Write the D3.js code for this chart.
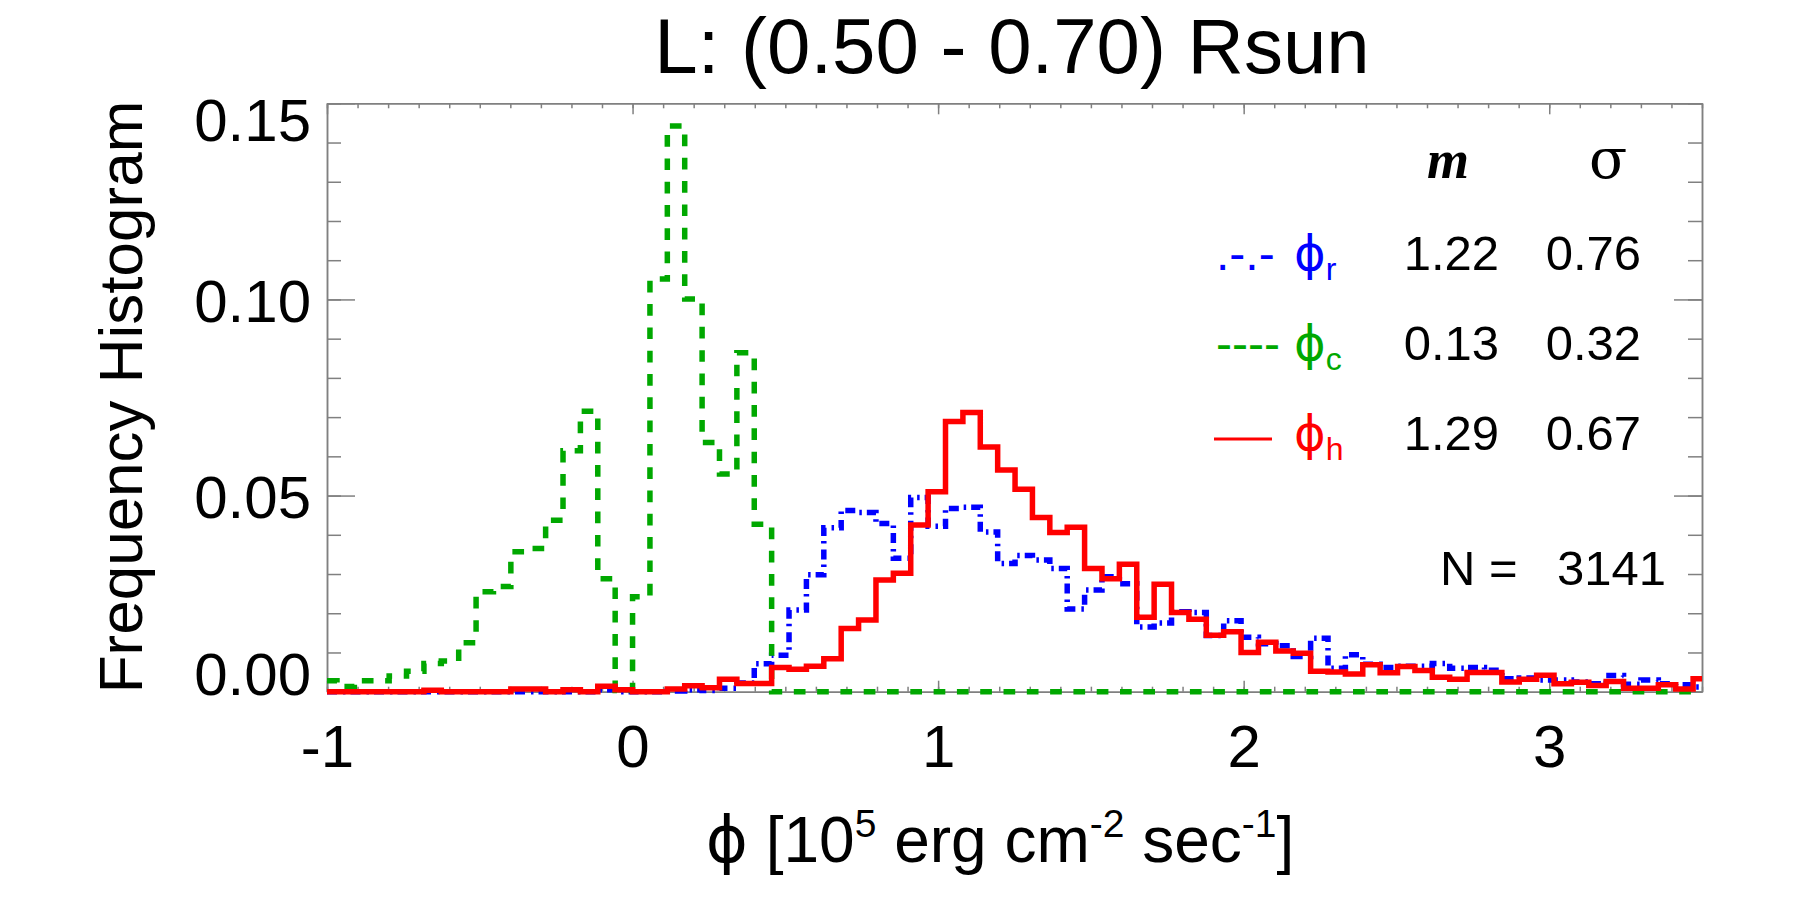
<!DOCTYPE html>
<html>
<head>
<meta charset="utf-8">
<script src="https://cdn.jsdelivr.net/npm/d3@7/dist/d3.min.js"></script>
<style>
    html, body { margin: 0; padding: 0; background: #fff; }
    svg text { font-family: "Liberation Sans", Arial, sans-serif; fill: #000; }
    .axis path, .axis line { stroke: #808080; stroke-width: 1.5; fill: none; }
</style>
</head>
<body>
<div id="chart"></div>
<script>
// histogram binning (80 equal bins, clipped to the x range)
var binStart = -1.0242;
var binWidth = 0.0569;
var xDomain = [-1, 3.5];
var yDomain = [0, 0.15];
var xTicks = [-1, 0, 1, 2, 3];
var yTicks = [0, 0.05, 0.10, 0.15];

// frequency per bin
var phiR = [0, 0, 0, 0, 0, 0, 0, 0, 0, 0,
    0, 0, 0, 0, 0, 0, 0.0005, 0, 0, 0,
    0.0002, 0.0005, 0.0003, 0.0009, 0.0022, 0.0071, 0.0093, 0.0208, 0.0298, 0.0418,
    0.0462, 0.0457, 0.0429, 0.0340, 0.0495, 0.0422, 0.0467, 0.0470, 0.0407, 0.0327,
    0.0347, 0.0336, 0.0314, 0.0211, 0.0259, 0.0293, 0.0275, 0.0165, 0.0175, 0.0204,
    0.0202, 0.0143, 0.0181, 0.0139, 0.0122, 0.0117, 0.0090, 0.0136, 0.0060, 0.0094,
    0.0070, 0.0062, 0.0065, 0.0065, 0.0072, 0.0060, 0.0062, 0.0055, 0.0033, 0.0035,
    0.0030, 0.0030, 0.0025, 0.0020, 0.0041, 0.0019, 0.0030, 0.0020, 0.0018, 0.0012];

var phiC = [0.0028, 0.0013, 0.0028, 0.0028, 0.0040, 0.0052, 0.0072, 0.0078, 0.0125, 0.0255,
    0.0268, 0.0357, 0.0365, 0.0437, 0.0614, 0.0715, 0.0288, 0.0003, 0.0242, 0.1052,
    0.1442, 0.1001, 0.0635, 0.0555, 0.0864, 0.0427, 0, 0, 0, 0,
    0, 0, 0, 0, 0, 0, 0, 0, 0, 0,
    0, 0, 0, 0, 0, 0, 0, 0, 0, 0,
    0, 0, 0, 0, 0, 0, 0, 0, 0, 0,
    0, 0, 0, 0, 0, 0, 0, 0, 0, 0,
    0, 0, 0, 0, 0, 0, 0, 0, 0, 0];

var phiH = [0, 0, 0, 0, 0, 0, 0.0004, 0, 0, 0,
    0, 0.0007, 0.0007, 0, 0.0005, 0, 0.0014, 0.0005, 0, 0,
    0.0007, 0.0015, 0.0010, 0.0032, 0.0021, 0.0021, 0.0062, 0.0057, 0.0065, 0.0084,
    0.0161, 0.0183, 0.0285, 0.0302, 0.0425, 0.0510, 0.0689, 0.0712, 0.0624, 0.0565,
    0.0516, 0.0444, 0.0406, 0.0419, 0.0314, 0.0288, 0.0325, 0.0190, 0.0274, 0.0202,
    0.0185, 0.0144, 0.0153, 0.0100, 0.0126, 0.0104, 0.0098, 0.0052, 0.0050, 0.0045,
    0.0069, 0.0048, 0.0064, 0.0054, 0.0037, 0.0032, 0.0049, 0.0049, 0.0025, 0.0032,
    0.0042, 0.0020, 0.0024, 0.0016, 0.0026, 0.0009, 0.0009, 0.0018, 0.0007, 0.0033];

var seriesKeys = ["r", "c", "h"];
var means = ["1.22", "0.13", "1.29"];
var sigmas = ["0.76", "0.32", "0.67"];
var nPoints = 3141;

var W = 1800, H = 900;
var plotL = 327, plotR = 1702, plotT = 103.3, plotB = 691.7;

var svg = d3.select("#chart").append("svg")
    .attr("width", W).attr("height", H);

var x = d3.scaleLinear().domain(xDomain).range([plotL, plotR]);
var y = d3.scaleLinear().domain(yDomain).range([plotB, plotT]);

var xMinor = d3.range(0, 46).map(function (i) { return -1 + i * 0.1; });
var yMinor = d3.range(0, 16).map(function (i) { return i * 0.01; });

function styleAxis(g) {
    g.attr("font-size", null).attr("font-family", null).attr("class", "axis");
}

// bottom axis
svg.append("g").attr("transform", "translate(0," + plotB + ")")
    .call(d3.axisBottom(x).tickValues(xMinor).tickSize(-5).tickSizeOuter(0).tickFormat(""))
    .call(styleAxis);
var xb = svg.append("g").attr("transform", "translate(0," + plotB + ")")
    .call(d3.axisBottom(x).tickValues(xTicks).tickSize(-11).tickSizeOuter(0).tickPadding(33)
        .tickFormat(function (d) { return String(d); }))
    .call(styleAxis);
xb.selectAll("text").attr("font-size", 60);

// top axis
svg.append("g").attr("transform", "translate(0," + plotT + ")")
    .call(d3.axisTop(x).tickValues(xMinor).tickSize(-5).tickSizeOuter(0).tickFormat(""))
    .call(styleAxis);
svg.append("g").attr("transform", "translate(0," + plotT + ")")
    .call(d3.axisTop(x).tickValues(xTicks).tickSize(-11).tickSizeOuter(0).tickFormat(""))
    .call(styleAxis);

// left axis
svg.append("g").attr("transform", "translate(" + plotL + ",0)")
    .call(d3.axisLeft(y).tickValues(yMinor).tickSize(-14).tickSizeOuter(0).tickFormat(""))
    .call(styleAxis);
var yl = svg.append("g").attr("transform", "translate(" + plotL + ",0)")
    .call(d3.axisLeft(y).tickValues(yTicks).tickSize(-28).tickSizeOuter(0).tickPadding(16)
        .tickFormat(d3.format(".2f")))
    .call(styleAxis);
yl.selectAll("text")
    .attr("font-size", 60)
    .attr("dy", "0.36em")
    .attr("y", function (d) {
        // first and last labels are kept inside the frame
        if (d === yDomain[1]) return 16;
        if (d === yDomain[0]) return -19;
        return 0;
    });

// right axis
svg.append("g").attr("transform", "translate(" + plotR + ",0)")
    .call(d3.axisRight(y).tickValues(yMinor).tickSize(-14).tickSizeOuter(0).tickFormat(""))
    .call(styleAxis);
svg.append("g").attr("transform", "translate(" + plotR + ",0)")
    .call(d3.axisRight(y).tickValues(yTicks).tickSize(-28).tickSizeOuter(0).tickFormat(""))
    .call(styleAxis);

// histograms
function steps(vals) {
    var pts = vals.map(function (v, i) {
        return [Math.max(binStart + i * binWidth, xDomain[0]), v];
    });
    pts.push([Math.min(binStart + vals.length * binWidth, xDomain[1]), vals[vals.length - 1]]);
    return pts;
}

var line = d3.line()
    .x(function (d) { return x(d[0]); })
    .y(function (d) { return y(d[1]); })
    .curve(d3.curveStepAfter);

var series = [
    { vals: phiR, color: "#0000ff", dash: "10,6,2.5,5" },
    { vals: phiC, color: "#00a800", dash: "11.7,11.6" },
    { vals: phiH, color: "#ff0000", dash: null }
];

svg.append("g").selectAll("path")
    .data(series)
    .enter().append("path")
    .attr("d", function (d) { return line(steps(d.vals)); })
    .attr("fill", "none")
    .attr("stroke", function (d) { return d.color; })
    .attr("stroke-width", 5.5)
    .attr("stroke-dasharray", function (d) { return d.dash; });

// title
svg.append("text")
    .attr("x", 1012).attr("y", 73)
    .attr("text-anchor", "middle")
    .attr("font-size", 78)
    .text("L: (0.50 - 0.70) Rsun");

// y title
svg.append("text")
    .attr("transform", "translate(142,397)rotate(-90)")
    .attr("text-anchor", "middle")
    .attr("font-size", 62)
    .text("Frequency Histogram");

// x title
var xt = svg.append("text")
    .attr("x", 1000).attr("y", 862)
    .attr("text-anchor", "middle")
    .attr("font-size", 64);
xt.append("tspan").style("font-family", "DejaVu Sans").text("\u03D5");
xt.append("tspan").text(" [10");
xt.append("tspan").attr("font-size", 39).attr("dy", -25).text("5");
xt.append("tspan").attr("dy", 25).text(" erg cm");
xt.append("tspan").attr("font-size", 39).attr("dy", -25).text("-2");
xt.append("tspan").attr("dy", 25).text(" sec");
xt.append("tspan").attr("font-size", 39).attr("dy", -25).text("-1");
xt.append("tspan").attr("dy", 25).text("]");

// legend table
var leg = svg.append("g");
leg.append("text")
    .attr("x", 1448).attr("y", 178)
    .attr("text-anchor", "middle")
    .attr("font-size", 54)
    .attr("font-weight", "bold")
    .attr("font-style", "italic")
    .style("font-family", "Liberation Serif, serif")
    .text("m");
leg.append("text")
    .attr("x", 1608).attr("y", 178)
    .attr("text-anchor", "middle")
    .attr("font-size", 56)
    .style("font-family", "DejaVu Serif, serif")
    .text("\u03C3");

var rows = leg.selectAll("g.row")
    .data(seriesKeys)
    .enter().append("g")
    .attr("class", "row")
    .attr("transform", function (d, i) { return "translate(0," + (270 + i * 90) + ")"; });

rows.each(function (d, i) {
    var g = d3.select(this);
    var c = series[i].color;
    if (i < 2) {
        g.append("text").attr("x", 1216).attr("y", 0)
            .attr("font-size", 48).style("fill", c)
            .text(i === 0 ? ".-.-" : "----");
    } else {
        g.append("line").attr("x1", 1214).attr("x2", 1272)
            .attr("y1", -11).attr("y2", -11)
            .attr("stroke", c).attr("stroke-width", 3);
    }
    var lab = g.append("text").attr("x", 1294).attr("y", 0)
        .attr("font-size", 48).style("fill", c);
    lab.append("tspan").style("font-family", "DejaVu Sans").text("\u03D5");
    lab.append("tspan").attr("font-size", 32).attr("dy", 10).text(d);
    g.append("text").attr("x", 1499).attr("y", 0)
        .attr("text-anchor", "end").attr("font-size", 49).text(means[i]);
    g.append("text").attr("x", 1641).attr("y", 0)
        .attr("text-anchor", "end").attr("font-size", 49).text(sigmas[i]);
});

leg.append("text").attr("x", 1440).attr("y", 585)
    .attr("font-size", 49).text("N =");
leg.append("text").attr("x", 1666).attr("y", 585)
    .attr("text-anchor", "end").attr("font-size", 49).text(String(nPoints));
</script>
</body>
</html>
